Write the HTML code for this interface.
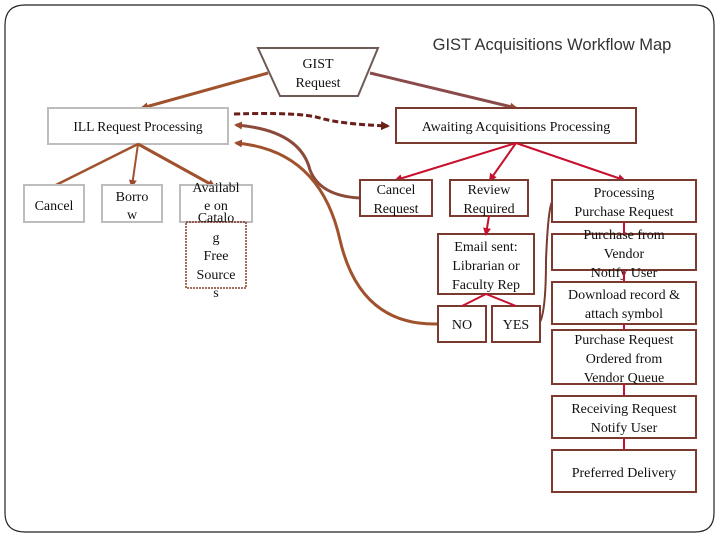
<!DOCTYPE html>
<html><head><meta charset="utf-8"><style>
html,body{margin:0;padding:0;background:#fff;}
svg{display:block;}
.t{font-family:"Liberation Serif",serif;font-size:14px;fill:#111;text-anchor:middle;}
</style></head><body>
<svg width="720" height="540" viewBox="0 0 720 540" xmlns="http://www.w3.org/2000/svg">
<defs>
<marker id="ab" markerWidth="8" markerHeight="8" refX="6" refY="4" orient="auto" markerUnits="userSpaceOnUse"><path d="M0,0 L8,4 L0,8 z" fill="#9b4a2e"/></marker>
<marker id="ar" markerWidth="8" markerHeight="8" refX="6" refY="4" orient="auto" markerUnits="userSpaceOnUse"><path d="M0,0 L8,4 L0,8 z" fill="#c8102e"/></marker>
<marker id="ad" markerWidth="9" markerHeight="9" refX="7" refY="4.5" orient="auto" markerUnits="userSpaceOnUse"><path d="M0,0 L9,4.5 L0,9 z" fill="#6b1f1a"/></marker>
</defs>
<path d="M25,5 H695 Q714,5 714,25 V513 Q714,532 695,532 H25 Q5,532 5,513 V25 Q5,5 25,5 Z" fill="none" stroke="#222" stroke-width="1.2"/>
<text x="552" y="50" style="font-family:'Liberation Sans',sans-serif;font-size:16.5px;fill:#333;text-anchor:middle">GIST Acquisitions Workflow Map</text>

<!-- GIST trapezoid -->
<polygon points="258,48 378,48 358,96 280,96" fill="#fff" stroke="#6e5a57" stroke-width="2"/>
<text class="t" x="318" y="68">GIST</text>
<text class="t" x="318" y="87">Request</text>

<!-- connectors from GIST -->
<line x1="268" y1="73" x2="142" y2="108" stroke="#a0522d" stroke-width="3" marker-end="url(#ab)"/>
<line x1="370" y1="73" x2="516" y2="108" stroke="#8b4a4a" stroke-width="3" marker-end="url(#ab)"/>

<!-- ILL -->
<rect x="48" y="108" width="180" height="36" fill="#fff" stroke="#bdbdbd" stroke-width="2"/>
<text class="t" x="138" y="131" style="font-size:13.5px">ILL Request Processing</text>
<line x1="138" y1="144" x2="54" y2="186" stroke="#a0522d" stroke-width="2.5"/>
<line x1="138" y1="144" x2="132" y2="186" stroke="#a0522d" stroke-width="2" marker-end="url(#ab)"/>
<line x1="138" y1="144" x2="214" y2="186" stroke="#a0522d" stroke-width="3" marker-end="url(#ab)"/>

<rect x="24" y="185" width="60" height="37" fill="#fff" stroke="#bdbdbd" stroke-width="2"/>
<text class="t" x="54" y="210">Cancel</text>
<rect x="102" y="185" width="60" height="37" fill="#fff" stroke="#bdbdbd" stroke-width="2"/>
<text class="t" x="132" y="201">Borro</text>
<text class="t" x="132" y="219">w</text>
<rect x="180" y="185" width="72" height="37" fill="#fff" stroke="#bdbdbd" stroke-width="2"/>
<rect x="186" y="222" width="60" height="66" fill="none" stroke="#8b3a2a" stroke-width="1.5" stroke-dasharray="2,1"/>
<text class="t" x="216" y="192">Availabl</text>
<text class="t" x="216" y="210">e on</text>
<text class="t" x="216" y="222">Catalo</text>
<text class="t" x="216" y="242">g</text>
<text class="t" x="216" y="260">Free</text>
<text class="t" x="216" y="279">Source</text>
<text class="t" x="216" y="297">s</text>

<!-- dashed connector -->
<path d="M234,114 Q300,112 320,118 Q340,124 388,126" fill="none" stroke="#6b1f1a" stroke-width="3" stroke-dasharray="6,3" marker-end="url(#ad)"/>

<!-- curves back to ILL -->
<path d="M360,198 Q320,196 310,170 Q300,130 236,125" fill="none" stroke="#8b4a3a" stroke-width="3" marker-end="url(#ab)"/>
<path d="M438,324 Q360,326 340,240 Q320,150 236,143" fill="none" stroke="#a0522d" stroke-width="3" marker-end="url(#ab)"/>

<!-- Awaiting -->
<rect x="396" y="108" width="240" height="35" fill="#fff" stroke="#7a3a30" stroke-width="2"/>
<text class="t" x="516" y="131">Awaiting Acquisitions Processing</text>
<line x1="516" y1="143" x2="396" y2="180" stroke="#c8102e" stroke-width="2" marker-end="url(#ar)"/>
<line x1="516" y1="143" x2="490" y2="180" stroke="#c8102e" stroke-width="2" marker-end="url(#ar)"/>
<line x1="516" y1="143" x2="624" y2="180" stroke="#c8102e" stroke-width="2" marker-end="url(#ar)"/>

<g fill="#fff" stroke="#7a3a30" stroke-width="2">
<rect x="360" y="180" width="72" height="36"/>
<rect x="450" y="180" width="78" height="36"/>
<rect x="438" y="234" width="96" height="60"/>
<rect x="438" y="306" width="48" height="36"/>
<rect x="492" y="306" width="48" height="36"/>
<rect x="552" y="180" width="144" height="42"/>
<rect x="552" y="234" width="144" height="36"/>
<rect x="552" y="282" width="144" height="42"/>
<rect x="552" y="330" width="144" height="54"/>
<rect x="552" y="396" width="144" height="42"/>
<rect x="552" y="450" width="144" height="42"/>
</g>
<text class="t" x="396" y="194">Cancel</text>
<text class="t" x="396" y="213">Request</text>
<text class="t" x="489" y="194">Review</text>
<text class="t" x="489" y="213">Required</text>
<line x1="489" y1="216" x2="486" y2="234" stroke="#c8102e" stroke-width="2" marker-end="url(#ar)"/>
<text class="t" x="486" y="251">Email sent:</text>
<text class="t" x="486" y="270">Librarian or</text>
<text class="t" x="486" y="289">Faculty Rep</text>
<line x1="486" y1="294" x2="462" y2="306" stroke="#c8102e" stroke-width="2"/>
<line x1="486" y1="294" x2="516" y2="306" stroke="#c8102e" stroke-width="2"/>
<text class="t" x="462" y="329">NO</text>
<text class="t" x="516" y="329">YES</text>
<path d="M540,322 Q546,310 546,260 Q548,210 552,202" fill="none" stroke="#7a3a30" stroke-width="2"/>

<text class="t" x="624" y="197">Processing</text>
<text class="t" x="624" y="216">Purchase Request</text>
<text class="t" x="624" y="239">Purchase from</text>
<text class="t" x="624" y="258">Vendor</text>
<text class="t" x="624" y="277">Notify User</text>
<text class="t" x="624" y="299">Download record &amp;</text>
<text class="t" x="624" y="318">attach symbol</text>
<text class="t" x="624" y="344">Purchase Request</text>
<text class="t" x="624" y="363">Ordered from</text>
<text class="t" x="624" y="382">Vendor Queue</text>
<text class="t" x="624" y="413">Receiving Request</text>
<text class="t" x="624" y="432">Notify User</text>
<text class="t" x="624" y="477">Preferred Delivery</text>
<g stroke="#c8102e" stroke-width="2">
<line x1="624" y1="222" x2="624" y2="234"/>
<line x1="624" y1="270" x2="624" y2="282"/>
<line x1="624" y1="324" x2="624" y2="330"/>
<line x1="624" y1="384" x2="624" y2="396"/>
<line x1="624" y1="438" x2="624" y2="450"/>
</g>
</svg>
</body></html>
